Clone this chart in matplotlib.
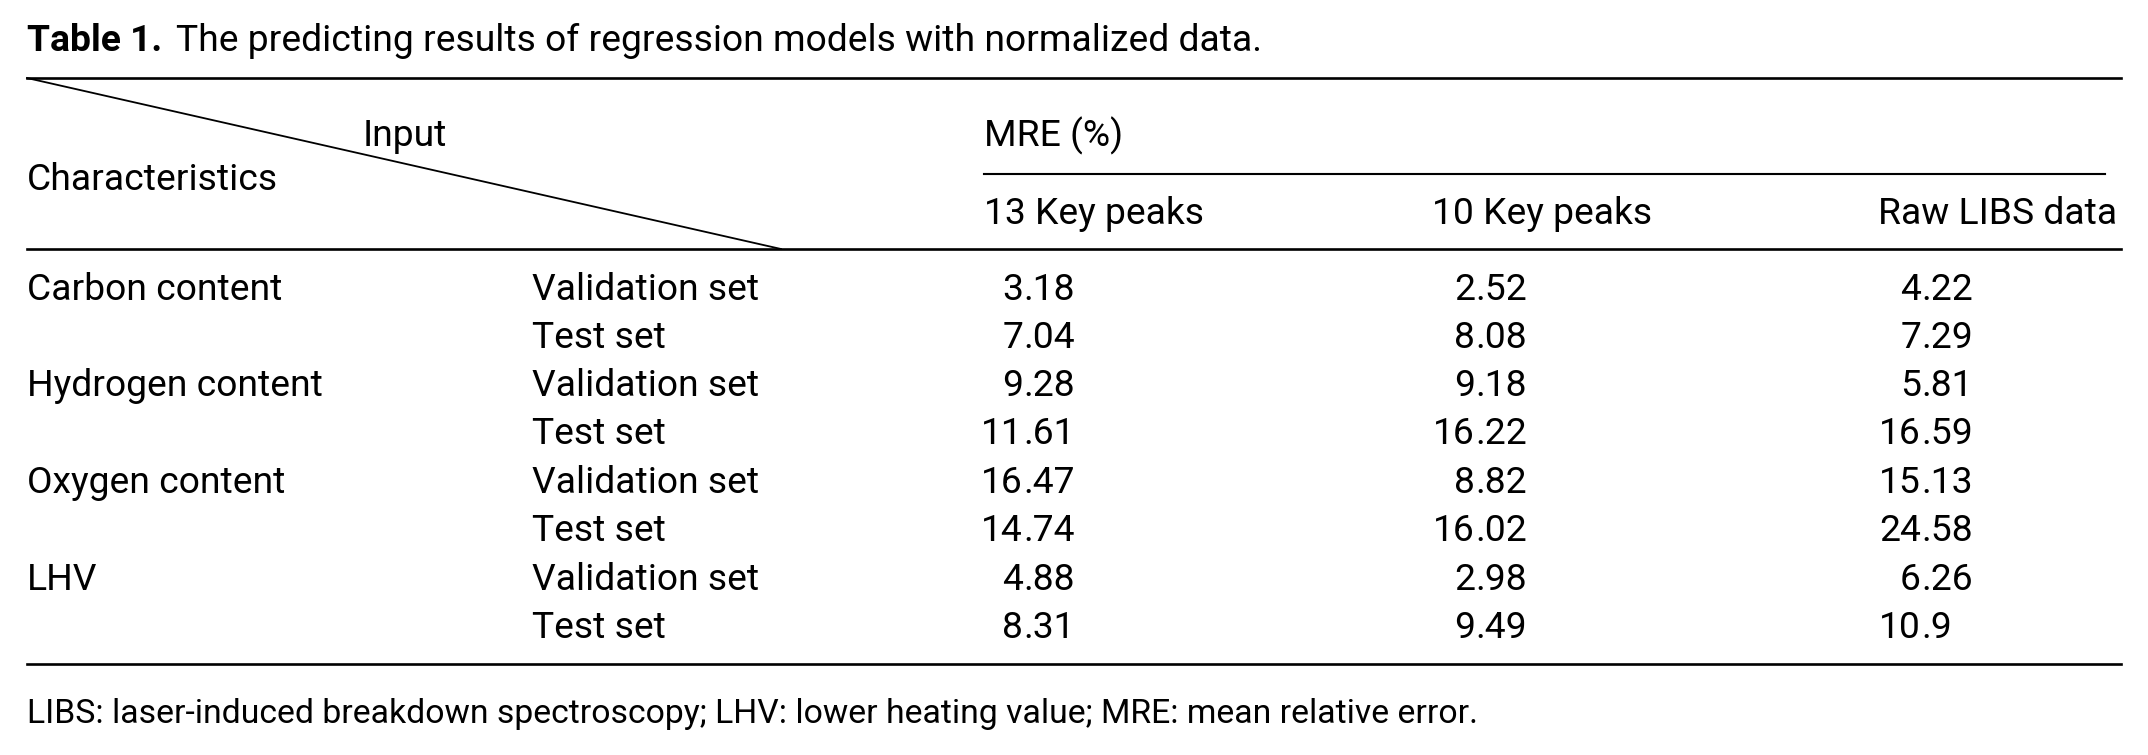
import matplotlib
matplotlib.use("Agg")
import matplotlib.pyplot as plt

plt.rcParams['font.family'] = ['Roboto', 'DejaVu Sans']

# table data
characteristics = ["Carbon content", "Hydrogen content", "Oxygen content", "LHV"]
sets = ["Validation set", "Test set"]
col_headers = ["13 Key peaks", "10 Key peaks", "Raw LIBS data"]
key13 = ["3.18", "7.04", "9.28", "11.61", "16.47", "14.74", "4.88", "8.31"]
key10 = ["2.52", "8.08", "9.18", "16.22", "8.82", "16.02", "2.98", "9.49"]
raw_libs = ["4.22", "7.29", "5.81", "16.59", "15.13", "24.58", "6.26", "10.9"]

title_bold = "Table 1."
title_rest = "The predicting results of regression models with normalized data."
footnote = "LIBS: laser-induced breakdown spectroscopy; LHV: lower heating value; MRE: mean relative error."

W, H = 2148, 755
fs = 26.8
fig = plt.figure(figsize=(W / 100, H / 100), dpi=100)
ax = fig.add_axes([0, 0, 1, 1])
ax.set_xlim(0, W)
ax.set_ylim(H, 0)
ax.axis("off")

# title
t = ax.text(27, 41, title_bold, fontsize=fs, fontweight="bold", va="center")
fig.canvas.draw()
bb = t.get_window_extent().transformed(ax.transData.inverted())
ax.text(bb.x1 + 14, 41, title_rest, fontsize=fs, va="center")

# rules
lw = 1.9
left, right = 27, 2121
ax.plot([left, right], [78, 78], color="black", lw=lw)
ax.plot([left, right], [249, 249], color="black", lw=lw)
ax.plot([left, right], [664, 664], color="black", lw=lw)
ax.plot([984, 2105], [174, 174], color="black", lw=lw * 0.8)
ax.plot([left, 781], [78, 249], color="black", lw=1.3)

# header
ax.text(363, 136, "Input", fontsize=fs, va="center")
ax.text(27, 180, "Characteristics", fontsize=fs, va="center")
ax.text(984, 136, "MRE (%)", fontsize=fs, va="center")
ax.text(984, 214, col_headers[0], fontsize=fs, va="center")
ax.text(1432, 214, col_headers[1], fontsize=fs, va="center")
ax.text(2117, 214, col_headers[2], fontsize=fs, va="center", ha="right")

# body, numbers aligned on the decimal point
row_y = [290, 338, 386, 434, 483, 531, 580, 628]
dec_x = [1023, 1475, 1921]
for i, y in enumerate(row_y):
    if i % 2 == 0:
        ax.text(27, y, characteristics[i // 2], fontsize=fs, va="center")
    ax.text(532, y, sets[i % 2], fontsize=fs, va="center")
    for col, dx in zip([key13, key10, raw_libs], dec_x):
        whole, frac = col[i].split(".")
        ax.text(dx, y, whole, fontsize=fs, va="center", ha="right")
        ax.text(dx, y, "." + frac, fontsize=fs, va="center", ha="left")

ax.text(27, 714, footnote, fontsize=24.3, va="center")

fig.savefig("out.png", dpi=100)
